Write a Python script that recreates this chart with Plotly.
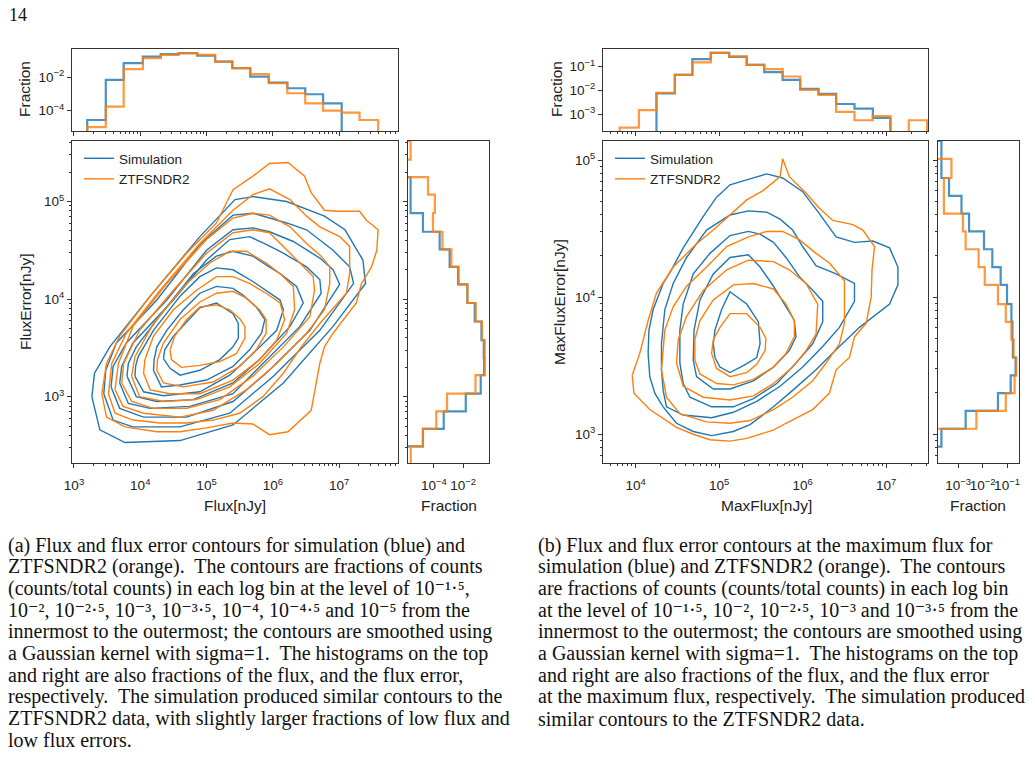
import plotly.graph_objects as go

# ---------------- DATA (log10 values) ----------------
# Panel (a) top histogram: log10 Flux bin edges, log10 fraction per bin (None = empty bin)
A_TOP_EDGES = [3.20, 3.48, 3.75, 4.04, 4.31, 4.58, 4.86, 5.13, 5.39, 5.66, 5.94, 6.22, 6.49, 6.76, 7.04, 7.31, 7.59]
A_TOP_SIM = [-4.56, -2.16, -1.16, -0.77, -0.62, -0.56, -0.71, -1.07, -1.46, -1.96, -2.32, -2.66, -3.02, -3.56, None, None]
A_TOP_ZTF = [-4.99, -3.76, -1.52, -0.86, -0.66, -0.56, -0.66, -1.07, -1.46, -1.82, -2.36, -2.96, -3.56, -4.00, -4.12, -4.56]

# Panel (a) right histogram: log10 FluxError bin edges, log10 fraction per bin
A_RIGHT_EDGES = [2.31, 2.49, 2.67, 2.85, 3.03, 3.22, 3.40, 3.58, 3.77, 3.96, 4.15, 4.33, 4.51, 4.69, 4.88, 5.07, 5.25, 5.43, 5.62]
A_RIGHT_SIM = [None, -4.76, -3.33, -1.81, -0.78, -0.55, -0.57, -0.73, -1.19, -1.70, -2.34, -2.92, -3.61, -4.76, -5.61, -5.61, None, None]
A_RIGHT_ZTF = [-5.60, -4.76, -3.84, -3.10, -1.14, -0.50, -0.50, -0.69, -1.12, -1.70, -2.30, -2.80, -3.42, -4.07, -3.94, -4.41, None, -5.61]

# Panel (b) top histogram: log10 MaxFlux bin edges
B_TOP_EDGES = [3.81, 4.04, 4.25, 4.47, 4.68, 4.90, 5.12, 5.33, 5.54, 5.76, 5.97, 6.19, 6.40, 6.62, 6.84, 7.05, 7.27, 7.49]
B_TOP_SIM = [None, None, -2.13, -1.35, -0.69, -0.43, -0.60, -0.93, -1.24, -1.56, -1.94, -2.15, -2.57, -2.76, -3.15, None, None]
B_TOP_ZTF = [-3.56, -2.83, -2.10, -1.35, -0.83, -0.43, -0.58, -0.93, -1.11, -1.42, -1.98, -2.19, -2.90, -3.25, -3.08, None, -3.25]

# Panel (b) right histogram: log10 MaxFluxError bin edges
B_RIGHT_EDGES = [2.78, 2.91, 3.04, 3.17, 3.30, 3.43, 3.56, 3.69, 3.82, 3.95, 4.09, 4.22, 4.35, 4.48, 4.61, 4.74, 4.87, 5.01, 5.14]
B_RIGHT_SIM = [None, -3.68, -2.69, -1.37, -0.85, -0.65, -0.76, -0.78, -0.82, -1.00, -1.26, -1.60, -1.94, -2.55, -2.86, -3.37, -3.68, -3.68]
B_RIGHT_ZTF = [None, None, -2.25, -1.05, -0.69, -0.62, -0.73, -0.82, -1.05, -1.37, -1.91, -2.16, -2.69, -2.80, -3.58, -3.58, -3.27, None]

# Contour levels (outermost -> innermost)
A_LEVELS = ["1e-5", "1e-4.5", "1e-4", "1e-3.5", "1e-3", "1e-2.5", "1e-2", "1e-1.5"]
B_LEVELS = ["1e-3.5", "1e-3", "1e-2.5", "1e-2", "1e-1.5"]

# Panel (a) contours, (log10 Flux, log10 FluxError) vertices, outermost first
A_SIM_RINGS = [
    [(3.27,3.00),(3.39,2.66),(3.77,2.53),(4.60,2.55),(5.40,2.71),(6.16,3.14),(6.91,3.72),(7.40,4.16),(7.36,4.40),(7.09,4.71),(6.78,4.85),(6.21,5.00),(5.70,5.05),(5.43,5.02),(4.90,4.64),(4.15,4.03),(3.54,3.51),(3.31,3.24)],
    [(3.45,3.03),(3.59,2.76),(3.89,2.69),(4.60,2.69),(5.35,2.83),(6.01,3.21),(6.71,3.68),(7.22,4.16),(7.16,4.33),(6.91,4.50),(6.51,4.71),(6.21,4.78),(5.70,4.88),(5.40,4.86),(4.90,4.56),(4.25,3.99),(3.64,3.55),(3.48,3.27)],
    [(3.56,3.10),(3.69,2.88),(4.05,2.79),(4.70,2.79),(5.40,2.95),(5.90,3.24),(6.56,3.68),(7.01,4.15),(6.91,4.30),(6.71,4.42),(6.31,4.59),(5.95,4.69),(5.70,4.73),(5.40,4.71),(5.00,4.50),(4.40,3.99),(3.79,3.55),(3.59,3.31)],
    [(3.69,3.14),(3.82,2.93),(4.15,2.88),(4.75,2.90),(5.40,3.03),(5.85,3.34),(6.41,3.72),(6.73,4.06),(6.71,4.20),(6.51,4.33),(6.16,4.47),(5.90,4.56),(5.65,4.64),(5.35,4.61),(5.00,4.40),(4.50,3.99),(3.89,3.55),(3.72,3.31)],
    [(3.80,3.21),(3.94,3.00),(4.25,2.95),(4.80,2.97),(5.40,3.14),(5.80,3.38),(6.26,3.72),(6.46,3.96),(6.36,4.13),(6.11,4.26),(5.90,4.35),(5.70,4.44),(5.40,4.49),(5.15,4.44),(4.80,4.26),(4.40,3.92),(3.94,3.51),(3.82,3.34)],
    [(3.92,3.21),(4.05,3.05),(4.35,3.01),(4.90,3.05),(5.35,3.22),(5.70,3.44),(6.06,3.68),(6.16,3.89),(6.11,3.99),(5.90,4.09),(5.70,4.18),(5.40,4.30),(5.15,4.32),(4.90,4.23),(4.60,4.03),(4.20,3.68),(3.97,3.41),(3.93,3.31)],
    [(4.20,3.27),(4.32,3.10),(4.60,3.12),(5.00,3.17),(5.40,3.31),(5.65,3.48),(5.83,3.65),(5.88,3.79),(5.75,3.92),(5.55,4.04),(5.40,4.11),(5.15,4.13),(4.90,4.06),(4.65,3.89),(4.40,3.68),(4.25,3.51),(4.21,3.38)],
    [(4.35,3.39),(4.45,3.29),(4.60,3.22),(4.90,3.27),(5.20,3.38),(5.40,3.51),(5.48,3.60),(5.48,3.75),(5.40,3.85),(5.15,3.96),(4.90,3.91),(4.70,3.77),(4.50,3.62),(4.37,3.48)],
]
A_ZTF_RINGS = [
    [(3.42,3.03),(3.49,2.79),(3.77,2.69),(4.25,2.64),(4.60,2.64),(5.00,2.68),(5.40,2.73),(5.70,2.72),(5.95,2.61),(6.23,2.64),(6.58,2.86),(6.71,3.34),(6.78,3.51),(6.91,3.65),(7.26,3.96),(7.34,4.16),(7.49,4.33),(7.57,4.50),(7.59,4.71),(7.41,4.81),(7.31,4.90),(6.96,4.90),(6.78,4.91),(6.58,5.09),(6.48,5.26),(6.23,5.40),(5.95,5.39),(5.70,5.26),(5.40,5.12),(5.15,4.78),(4.70,4.47),(4.15,4.03),(3.69,3.62),(3.49,3.34)],
    [(3.52,3.03),(3.62,2.83),(3.89,2.76),(4.30,2.73),(4.70,2.73),(5.10,2.76),(5.50,2.83),(5.85,3.00),(6.16,3.24),(6.43,3.51),(6.71,3.75),(7.11,4.06),(7.16,4.26),(7.16,4.54),(7.01,4.64),(6.71,4.74),(6.51,4.85),(6.26,5.02),(5.95,5.13),(5.70,5.07),(5.40,4.91),(4.90,4.57),(4.30,4.09),(3.79,3.65),(3.57,3.34)],
    [(3.62,3.07),(3.74,2.90),(4.05,2.83),(4.60,2.79),(5.10,2.86),(5.60,3.07),(6.06,3.34),(6.51,3.65),(6.78,3.89),(6.86,4.16),(6.86,4.33),(6.73,4.44),(6.51,4.57),(6.26,4.74),(5.95,4.86),(5.70,4.88),(5.40,4.83),(5.00,4.61),(4.40,4.16),(3.89,3.72),(3.67,3.34)],
    [(3.72,3.14),(3.87,2.95),(4.20,2.88),(4.70,2.88),(5.20,2.97),(5.70,3.21),(6.16,3.51),(6.56,3.82),(6.63,4.09),(6.61,4.23),(6.41,4.37),(6.16,4.54),(5.95,4.68),(5.70,4.71),(5.40,4.68),(5.00,4.47),(4.50,4.09),(3.99,3.68),(3.75,3.34)],
    [(3.87,3.21),(3.99,3.00),(4.35,2.95),(4.85,2.97),(5.35,3.10),(5.80,3.34),(6.21,3.65),(6.33,3.89),(6.31,4.13),(6.11,4.26),(5.90,4.37),(5.60,4.49),(5.35,4.49),(5.05,4.37),(4.70,4.16),(4.20,3.75),(3.92,3.41)],
    [(4.05,3.24),(4.15,3.07),(4.45,3.03),(4.90,3.03),(5.40,3.17),(5.80,3.38),(6.06,3.58),(6.18,3.79),(6.11,3.96),(5.90,4.06),(5.65,4.16),(5.40,4.23),(5.15,4.23),(4.85,4.09),(4.50,3.89),(4.20,3.62),(4.07,3.38)],
    [(4.25,3.27),(4.35,3.14),(4.65,3.10),(5.10,3.15),(5.50,3.31),(5.75,3.48),(5.90,3.65),(5.90,3.79),(5.80,3.89),(5.60,4.01),(5.40,4.08),(5.15,4.06),(4.90,3.97),(4.60,3.79),(4.35,3.55),(4.26,3.38)],
    [(4.45,3.48),(4.47,3.38),(4.62,3.30),(4.90,3.32),(5.20,3.36),(5.45,3.44),(5.58,3.60),(5.58,3.72),(5.50,3.80),(5.35,3.89),(5.15,3.94),(4.90,3.92),(4.70,3.79),(4.52,3.62)],
]

# Panel (b) contours, (log10 MaxFlux, log10 MaxFluxError) vertices, outermost first
B_SIM_RINGS = [
    [(4.15,3.59),(4.17,3.42),(4.23,3.30),(4.33,3.20),(4.49,3.08),(4.69,3.02),(4.91,2.99),(5.17,3.02),(5.37,3.07),(5.65,3.20),(5.88,3.32),(6.16,3.47),(6.44,3.64),(6.68,3.78),(7.04,3.95),(7.14,4.09),(7.14,4.22),(7.04,4.36),(6.84,4.41),(6.62,4.40),(6.40,4.44),(6.20,4.61),(6.00,4.77),(5.76,4.87),(5.57,4.90),(5.45,4.88),(5.35,4.86),(5.13,4.82),(4.97,4.73),(4.81,4.59),(4.57,4.36),(4.43,4.20),(4.33,4.10),(4.21,3.91),(4.16,3.76)],
    [(4.33,3.32),(4.37,3.20),(4.57,3.14),(4.91,3.12),(5.17,3.16),(5.45,3.24),(5.73,3.35),(6.00,3.49),(6.24,3.64),(6.44,3.78),(6.62,3.97),(6.62,4.10),(6.40,4.17),(6.16,4.23),(6.00,4.37),(5.88,4.49),(5.73,4.57),(5.57,4.62),(5.35,4.63),(5.13,4.60),(4.85,4.49),(4.61,4.29),(4.45,4.10),(4.35,3.91),(4.31,3.66),(4.31,3.47)],
    [(4.57,3.37),(4.65,3.27),(4.91,3.20),(5.17,3.20),(5.41,3.26),(5.69,3.37),(5.92,3.52),(6.12,3.66),(6.24,3.82),(6.24,3.97),(6.12,4.05),(5.96,4.15),(5.80,4.29),(5.65,4.40),(5.49,4.46),(5.35,4.48),(5.13,4.45),(4.89,4.32),(4.69,4.17),(4.57,3.95),(4.53,3.76),(4.53,3.52)],
    [(4.69,3.54),(4.73,3.42),(4.93,3.33),(5.13,3.33),(5.41,3.39),(5.65,3.49),(5.84,3.61),(5.92,3.71),(5.90,3.83),(5.80,3.93),(5.65,4.08),(5.49,4.22),(5.35,4.31),(5.13,4.29),(4.93,4.17),(4.77,3.98),(4.70,3.76)],
    [(4.95,3.56),(5.01,3.49),(5.13,3.45),(5.29,3.50),(5.45,3.56),(5.49,3.66),(5.47,3.82),(5.33,3.95),(5.13,4.04),(5.03,3.91),(4.95,3.76),(4.93,3.66)],
]
B_ZTF_RINGS = [
    [(3.96,3.43),(4.05,3.59),(4.15,3.83),(4.25,4.03),(4.45,4.22),(4.73,4.39),(4.93,4.49),(5.15,4.61),(5.33,4.71),(5.53,4.78),(5.73,4.88),(5.76,5.01),(5.84,4.88),(6.04,4.76),(6.20,4.65),(6.36,4.56),(6.60,4.53),(6.72,4.49),(6.86,4.37),(6.83,4.20),(6.82,4.00),(6.76,3.81),(6.62,3.71),(6.56,3.56),(6.40,3.47),(6.32,3.30),(6.12,3.18),(5.80,3.08),(5.65,3.03),(5.33,2.97),(5.13,2.95),(4.89,2.96),(4.69,3.00),(4.49,3.05),(4.17,3.18),(3.98,3.30)],
    [(4.31,3.47),(4.37,3.27),(4.53,3.15),(4.85,3.09),(5.13,3.08),(5.37,3.10),(5.65,3.18),(5.88,3.27),(6.12,3.39),(6.28,3.52),(6.44,3.66),(6.50,3.81),(6.50,4.12),(6.32,4.25),(6.16,4.32),(5.96,4.42),(5.76,4.48),(5.57,4.48),(5.35,4.44),(5.09,4.37),(4.85,4.22),(4.61,4.08),(4.45,3.93),(4.35,3.76)],
    [(4.49,3.52),(4.57,3.35),(4.81,3.27),(5.13,3.25),(5.41,3.28),(5.65,3.37),(5.88,3.49),(6.04,3.61),(6.16,3.73),(6.18,3.95),(6.04,4.10),(5.84,4.20),(5.65,4.26),(5.35,4.27),(5.09,4.20),(4.81,4.05),(4.61,3.86),(4.51,3.69)],
    [(4.71,3.54),(4.77,3.44),(4.97,3.37),(5.17,3.36),(5.41,3.40),(5.65,3.49),(5.80,3.59),(5.90,3.71),(5.90,3.83),(5.80,3.95),(5.65,4.06),(5.41,4.10),(5.17,4.09),(4.93,3.98),(4.77,3.83),(4.71,3.69)],
    [(4.91,3.59),(4.97,3.48),(5.13,3.42),(5.33,3.45),(5.45,3.51),(5.55,3.61),(5.56,3.70),(5.49,3.78),(5.33,3.88),(5.13,3.88),(5.01,3.78),(4.93,3.69)],
]

SERIES = ["Simulation", "ZTFSNDR2"]

CAPTION_A = [
    "(a) Flux and flux error contours for simulation (blue) and",
    "ZTFSNDR2 (orange).  The contours are fractions of counts",
    "(counts/total counts) in each log bin at the level of 10⁻¹·⁵,",
    "10⁻², 10⁻²·⁵, 10⁻³, 10⁻³·⁵, 10⁻⁴, 10⁻⁴·⁵ and 10⁻⁵ from the",
    "innermost to the outermost; the contours are smoothed using",
    "a Gaussian kernel with sigma=1.  The histograms on the top",
    "and right are also fractions of the flux, and the flux error,",
    "respectively.  The simulation produced similar contours to the",
    "ZTFSNDR2 data, with slightly larger fractions of low flux and",
    "low flux errors.",
]
CAPTION_B = [
    "(b) Flux and flux error contours at the maximum flux for",
    "simulation (blue) and ZTFSNDR2 (orange).  The contours",
    "are fractions of counts (counts/total counts) in each log bin",
    "at the level of 10⁻¹·⁵, 10⁻², 10⁻²·⁵, 10⁻³ and 10⁻³·⁵ from the",
    "innermost to the outermost; the contours are smoothed using",
    "a Gaussian kernel with sigma=1.  The histograms on the top",
    "and right are also fractions of the flux, and the flux error",
    "at the maximum flux, respectively.  The simulation produced",
    "similar contours to the ZTFSNDR2 data.",
]

# ---------------- helpers ----------------
BLUE = "#1f77b4"
ORANGE = "#ff7f0e"
TINY = 1e-30
W, H = 1035, 774


def top_step(edges, vals):
    xs, ys = [10 ** edges[0]], [TINY]
    for e, v in zip(edges[:-1], vals):
        xs.append(10 ** e)
        ys.append(10 ** v if v is not None else TINY)
    xs += [10 ** edges[-1], 10 ** edges[-1]]
    ys += [ys[-1], TINY]
    return xs, ys


def right_step(edges, vals):
    xs, ys = [TINY], [10 ** edges[0]]
    for e, v in zip(edges[:-1], vals):
        ys.append(10 ** e)
        xs.append(10 ** v if v is not None else TINY)
    ys += [10 ** edges[-1], 10 ** edges[-1]]
    xs += [xs[-1], TINY]
    return xs, ys


def rings_xy(rings):
    xs, ys = [], []
    for ring in rings:
        pts = list(ring) + [ring[0]]
        xs += [10 ** p[0] for p in pts] + [None]
        ys += [10 ** p[1] for p in pts] + [None]
    return xs, ys


def px(x):
    return x / W


def py(y):
    return 1 - y / H


def sup(e):
    return "10<sup>" + str(e).replace("-", "−") + "</sup>"


def minor_vals(lo, hi):
    out = []
    for d in range(lo, hi):
        for k in range(2, 10):
            out.append(k * 10 ** d)
    return out


TICKFONT = dict(family="Liberation Sans, Arial", size=13.5, color="#222")
AX = dict(showline=True, linecolor="#333", linewidth=1.1, mirror=True, ticks="outside",
          ticklen=4, tickwidth=1, tickcolor="#333", showgrid=False, zeroline=False,
          tickfont=TICKFONT, type="log", automargin=False, tickangle=0)


def axis(domain, rng, tick_exps=None, labels=True, minor=None, anchor=None):
    d = dict(AX)
    d.update(domain=domain, range=rng, anchor=anchor)
    if tick_exps is not None:
        d.update(tickmode="array", tickvals=[10 ** e for e in tick_exps],
                 ticktext=[sup(e) for e in tick_exps])
    d["showticklabels"] = labels
    if minor is not None:
        d["minor"] = dict(tickmode="array", tickvals=minor, ticks="outside", ticklen=2.2,
                          tickcolor="#333", showgrid=False)
    return d


fig = go.Figure()

# ---- panel (a) ----
for name, rings, col in [(SERIES[0], A_SIM_RINGS, BLUE), (SERIES[1], A_ZTF_RINGS, ORANGE)]:
    x, y = rings_xy(rings)
    fig.add_trace(go.Scatter(x=x, y=y, mode="lines", name=name, line=dict(color=col, width=1.4),
                             xaxis="x", yaxis="y", legend="legend", hoverinfo="skip"))
for vals, col in [(A_TOP_SIM, BLUE), (A_TOP_ZTF, ORANGE)]:
    x, y = top_step(A_TOP_EDGES, vals)
    fig.add_trace(go.Scatter(x=x, y=y, mode="lines", line=dict(color=col, width=2.2, shape="hv"),
                             opacity=0.8, showlegend=False, xaxis="x2", yaxis="y2"))
for vals, col in [(A_RIGHT_SIM, BLUE), (A_RIGHT_ZTF, ORANGE)]:
    x, y = right_step(A_RIGHT_EDGES, vals)
    fig.add_trace(go.Scatter(x=x, y=y, mode="lines", line=dict(color=col, width=2.2, shape="vh"),
                             opacity=0.8, showlegend=False, xaxis="x3", yaxis="y3"))

# ---- panel (b) ----
for name, rings, col in [(SERIES[0], B_SIM_RINGS, BLUE), (SERIES[1], B_ZTF_RINGS, ORANGE)]:
    x, y = rings_xy(rings)
    fig.add_trace(go.Scatter(x=x, y=y, mode="lines", name=name, line=dict(color=col, width=1.4),
                             xaxis="x4", yaxis="y4", legend="legend2", hoverinfo="skip"))
for vals, col in [(B_TOP_SIM, BLUE), (B_TOP_ZTF, ORANGE)]:
    x, y = top_step(B_TOP_EDGES, vals)
    fig.add_trace(go.Scatter(x=x, y=y, mode="lines", line=dict(color=col, width=2.2, shape="hv"),
                             opacity=0.8, showlegend=False, xaxis="x5", yaxis="y5"))
for vals, col in [(B_RIGHT_SIM, BLUE), (B_RIGHT_ZTF, ORANGE)]:
    x, y = right_step(B_RIGHT_EDGES, vals)
    fig.add_trace(go.Scatter(x=x, y=y, mode="lines", line=dict(color=col, width=2.2, shape="vh"),
                             opacity=0.8, showlegend=False, xaxis="x6", yaxis="y6"))

# ---- layout geometry (pixels) ----
A_X = [px(72), px(398)]
A_RX = [px(408), px(489)]
B_X = [px(603), px(928)]
B_RX = [px(938), px(1019)]
MAIN_Y = [py(463), py(141)]
TOP_Y = [py(131), py(49)]

LEGFONT = dict(family="Liberation Sans, Arial", size=13.5, color="#222")
layout = dict(
    width=W, height=H, margin=dict(l=0, r=0, t=0, b=0, autoexpand=False),
    paper_bgcolor="white", plot_bgcolor="white", showlegend=True,
    xaxis=axis(A_X, [2.97, 7.89], [3, 4, 5, 6, 7], True, minor_vals(2, 8), "y"),
    yaxis=axis(MAIN_Y, [2.32, 5.62], [3, 4, 5], True, minor_vals(2, 6), "x"),
    xaxis2=axis(A_X, [2.97, 7.89], [3, 4, 5, 6, 7], False, minor_vals(2, 8), "y2"),
    yaxis2=axis(TOP_Y, [-5.22, -0.31], [-4, -2], True, None, "x2"),
    xaxis3=axis(A_RX, [-5.79, -0.21], [-4, -2], True, None, "y3"),
    yaxis3=axis(MAIN_Y, [2.32, 5.62], [3, 4, 5], False, minor_vals(2, 6), "x3"),
    xaxis4=axis(B_X, [3.61, 7.50], [4, 5, 6, 7], True, minor_vals(3, 8), "y4"),
    yaxis4=axis(MAIN_Y, [2.79, 5.14], [3, 4, 5], True, minor_vals(2, 6), "x4"),
    xaxis5=axis(B_X, [3.61, 7.50], [4, 5, 6, 7], False, minor_vals(3, 8), "y5"),
    yaxis5=axis(TOP_Y, [-3.70, -0.27], [-3, -2, -1], True, None, "x5"),
    xaxis6=axis(B_RX, [-3.82, -0.51], [-3, -2, -1], True, None, "y6"),
    yaxis6=axis(MAIN_Y, [2.79, 5.14], [3, 4, 5], False, minor_vals(2, 6), "x6"),
    legend=dict(x=px(79), y=py(143), xanchor="left", yanchor="top", bgcolor="rgba(0,0,0,0)",
                font=LEGFONT, itemwidth=30, tracegroupgap=0),
    legend2=dict(x=px(610), y=py(143), xanchor="left", yanchor="top", bgcolor="rgba(0,0,0,0)",
                 font=LEGFONT, itemwidth=30, tracegroupgap=0),
)
fig.update_layout(**layout)
for ax in ["xaxis", "xaxis3", "xaxis4", "xaxis6"]:
    fig.layout[ax].ticklabelstandoff = 6

# ---- text: axis titles, page number, captions ----
LBL = dict(family="Liberation Sans, Arial", size=15.5, color="#222")
anns = []


def ann(text, x, y, font, angle=0, xanchor="center", yanchor="middle"):
    anns.append(dict(text=text, x=px(x), y=py(y), xref="paper", yref="paper", showarrow=False,
                     font=font, textangle=angle, xanchor=xanchor, yanchor=yanchor))


ann("Flux[nJy]", 235, 505, LBL)
ann("FluxError[nJy]", 25, 302, LBL, -90)
ann("Fraction", 24, 89, LBL, -90)
ann("Fraction", 449, 505, LBL)
ann("MaxFlux[nJy]", 766, 505, LBL)
ann("MaxFluxError[nJy]", 559, 302, LBL, -90)
ann("Fraction", 556, 89, LBL, -90)
ann("Fraction", 978, 505, LBL)

SERIF = dict(family="Liberation Serif, DejaVu Serif, serif", size=20, color="#111")
ann("14", 7, 15, dict(family="Liberation Serif, serif", size=18, color="#111"), xanchor="left")
for i, line in enumerate(CAPTION_A):
    ann(line, 6, 545 + i * 21.7, SERIF, xanchor="left")
for i, line in enumerate(CAPTION_B):
    ann(line, 536, 545 + i * 21.7, SERIF, xanchor="left")

fig.update_layout(annotations=anns)
fig.write_html("out.html")
